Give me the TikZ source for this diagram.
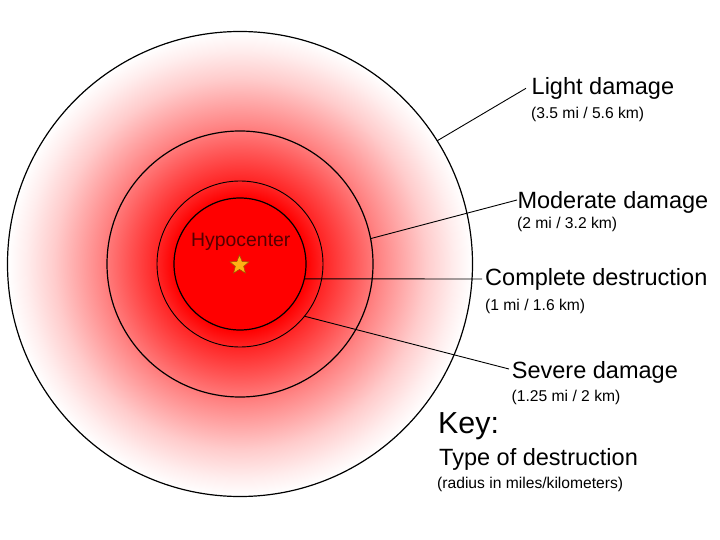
\documentclass[tikz,border=0pt]{standalone}
\usepackage{fontspec}
\setmainfont{Liberation Sans}
\usetikzlibrary{shapes.geometric}
\pgfdeclareradialshading{blast}{\pgfpoint{0bp}{0bp}}{%
  rgb(0bp)=(1,0,0);
  rgb(7.1bp)=(1,0,0);
  rgb(8.9bp)=(1,0.14,0.14);
  rgb(12bp)=(1,0.33,0.33);
  rgb(15bp)=(1,0.52,0.52);
  rgb(20bp)=(1,0.80,0.80);
  rgb(23bp)=(1,0.93,0.93);
  rgb(25bp)=(1,1,1);
  rgb(50bp)=(1,1,1)}
\definecolor{hypo}{RGB}{85,0,0}
\definecolor{stargold}{RGB}{255,176,20}
\definecolor{staredge}{RGB}{150,90,0}
\tikzset{
  ring/.style={circle, draw=black, line width=1.2bp, inner sep=0pt, outer sep=0pt, minimum size=#1},
  leader/.style={draw=black, line width=0.9bp},
  head/.style={anchor=base west, inner sep=0pt, font=\fontsize{23.6}{28}\selectfont},
  sub/.style={anchor=base west, inner sep=0pt, font=\fontsize{15.7}{19}\selectfont},
}
\begin{document}
\begin{tikzpicture}[x=1bp,y=-1bp]
\useasboundingbox (0,0) rectangle (720,540);
\fill[white] (0,0) rectangle (720,540);
\coordinate (c) at (240,264);
\node[ring=465bp, shading=blast] (outer) at (c) {};
\node[ring=266bp] (moderate) at (c) {};
\node[ring=166bp, line width=0.9bp] (severe) at (c) {};
\node[ring=132bp] (complete) at (c) {};
\node[star, star points=5, star point ratio=2.3, minimum size=20bp, inner sep=0pt,
      fill=stargold, draw=staredge, line width=0.5bp] (star) at (239.5,265) {};
\node[anchor=base, inner sep=0pt, text=hypo, font=\fontsize{19.5}{23}\selectfont] (hypo) at (240.8,246.7) {Hypocenter};
% labels
\node[head] (lightlbl) at (531.5,95) {Light damage};
\node[sub] (lightsub) at (531,118.6) {(3.5 mi / 5.6 km)};
\node[head] (modlbl) at (517.3,208.3) {Moderate damage};
\node[sub] (modsub) at (517,228.4) {(2 mi / 3.2 km)};
\node[head] (complbl) at (485,286) {Complete destruction};
\node[sub] (compsub) at (485,310.7) {(1 mi / 1.6 km)};
\node[head] (sevlbl) at (511.7,378) {Severe damage};
\node[sub] (sevsub) at (511.5,401.7) {(1.25 mi / 2 km)};
\node[anchor=base west, inner sep=0pt, font=\fontsize{30.5}{36}\selectfont] (key) at (438,433.3) {Key:};
\node[head] (keytype) at (439,465) {Type of destruction};
\node[sub] (keysub) at (437,488.7) {(radius in miles/kilometers)};
% leader ends
\coordinate (lightend) at (526,88.3);
\coordinate (modend) at (517,200);
\coordinate (compend) at (482,279);
\coordinate (sevend) at (509,369);
\draw[leader] (outer.32.7) -- (lightend);
\draw[leader] (moderate.11.2) -- (modend);
\draw[leader] (complete.-13.1) -- (compend);
\draw[leader] (severe.-39.4) -- (sevend);
\end{tikzpicture}
\end{document}
